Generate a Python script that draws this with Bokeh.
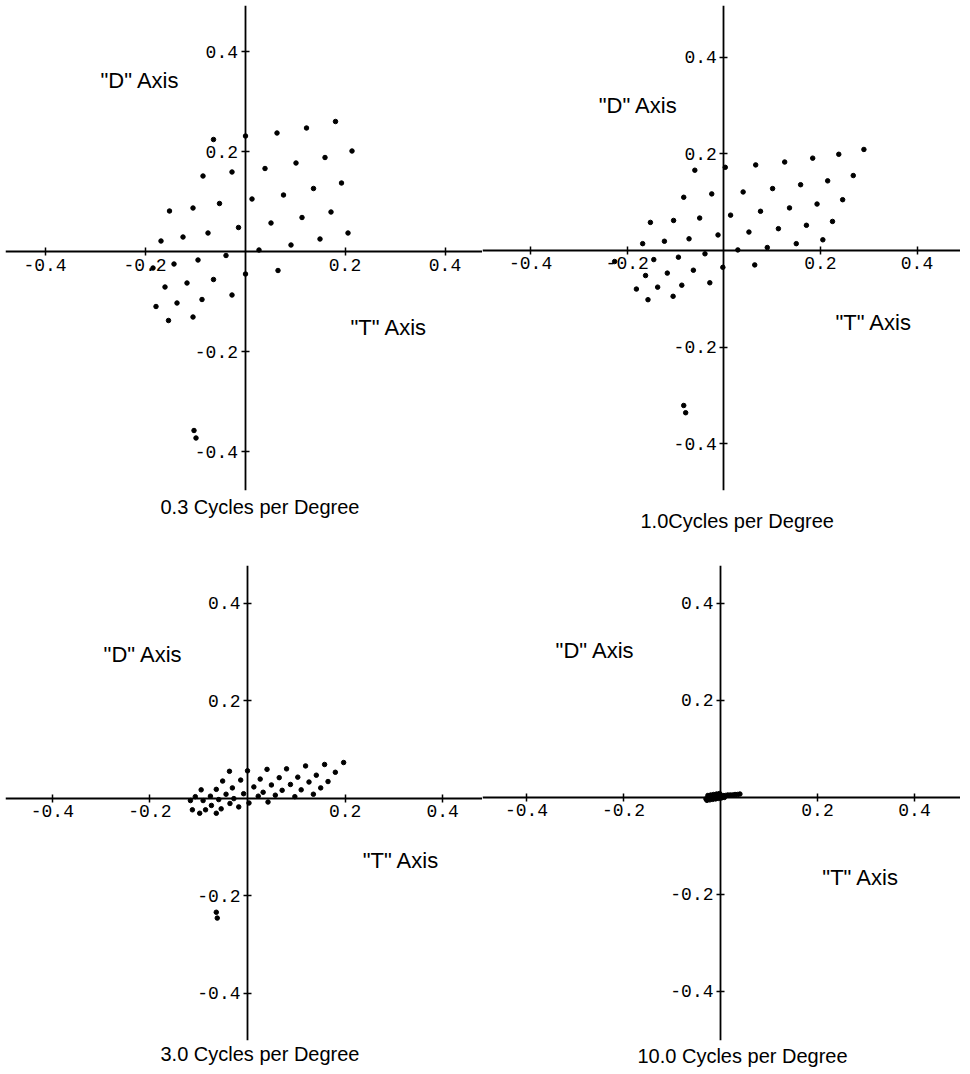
from bokeh.plotting import figure
from bokeh.models import LinearAxis, FixedTicker, Title, Range1d
from bokeh.layouts import row, column
from bokeh.embed import file_html
from bokeh.resources import INLINE
from bokeh.core.properties import value

# ---------------- data ----------------
tick_values = [-0.4, -0.2, 0.2, 0.4]
tick_labels = ["-0.4", "-0.2", "0.2", "0.4"]

titles = ["0.3 Cycles per Degree", "1.0Cycles per Degree",
          "3.0 Cycles per Degree", "10.0 Cycles per Degree"]
d_label = '"D" Axis'
t_label = '"T" Axis'

# panel 1 : 0.3 c/deg
p1_t = [-0.063, 0.001, 0.064, 0.123, 0.181,
        -0.084, -0.026, 0.040, 0.102, 0.160, 0.214,
        -0.151, -0.104, -0.051, 0.014, 0.077, 0.137, 0.193,
        -0.168, -0.124, -0.074, -0.013, 0.052, 0.114, 0.172,
        0.028, 0.092, 0.150, 0.206,
        -0.184, -0.142, -0.094, -0.038, 0.066, 0.001,
        -0.160, -0.116, -0.063,
        -0.178, -0.136, -0.086, -0.026,
        -0.153, -0.104,
        -0.102, -0.098]
p1_d = [0.224, 0.231, 0.237, 0.247, 0.260,
        0.151, 0.159, 0.166, 0.177, 0.188, 0.201,
        0.081, 0.087, 0.096, 0.105, 0.113, 0.126, 0.137,
        0.021, 0.029, 0.037, 0.048, 0.057, 0.068, 0.079,
        0.003, 0.013, 0.025, 0.037,
        -0.033, -0.025, -0.017, -0.008, -0.038, -0.045,
        -0.071, -0.063, -0.056,
        -0.110, -0.103, -0.096, -0.087,
        -0.138, -0.131,
        -0.358, -0.373]

# panel 2 : 1.0 c/deg
p2_t = [-0.060, 0.003, 0.066, 0.126, 0.184, 0.238, 0.290,
        -0.083, -0.025, 0.040, 0.101, 0.159, 0.215, 0.268,
        -0.152, -0.104, -0.050, 0.014, 0.076, 0.136, 0.193, 0.246,
        -0.168, -0.123, -0.072, -0.012, 0.052, 0.113, 0.171, 0.225,
        -0.226, -0.145, -0.094, -0.039, 0.029, 0.090, 0.150, 0.205,
        -0.162, -0.117, -0.063, -0.002, 0.064,
        -0.181, -0.137, -0.087, -0.029,
        -0.157, -0.105,
        -0.083, -0.079]
p2_d = [0.166, 0.172, 0.177, 0.183, 0.191, 0.199, 0.209,
        0.110, 0.117, 0.121, 0.128, 0.136, 0.144, 0.155,
        0.058, 0.062, 0.067, 0.073, 0.081, 0.088, 0.096, 0.105,
        0.014, 0.019, 0.024, 0.032, 0.038, 0.045, 0.052, 0.060,
        -0.023, -0.019, -0.014, -0.007, 0.001, 0.006, 0.014, 0.022,
        -0.052, -0.047, -0.041, -0.035, -0.030,
        -0.080, -0.076, -0.072, -0.067,
        -0.102, -0.095,
        -0.321, -0.336]

# panel 3 : 3.0 c/deg
p3_t = [-0.037, 0.000, 0.040, 0.080, 0.119, 0.158, 0.197,
        -0.051, -0.014, 0.026, 0.065, 0.103, 0.141, 0.180,
        -0.095, -0.064, -0.031, 0.013, 0.049, 0.088, 0.126, 0.165,
        -0.008, 0.032, 0.071, 0.110, 0.150,
        -0.117, -0.107, -0.091, -0.076, -0.059, -0.044, -0.028,
        0.022, 0.057, 0.097, 0.135,
        -0.036, -0.018, 0.003, 0.042, -0.074,
        -0.113, -0.098, -0.086, -0.064, -0.054,
        -0.064, -0.062]
p3_d = [0.055, 0.056, 0.059, 0.060, 0.066, 0.069, 0.073,
        0.035, 0.037, 0.039, 0.042, 0.043, 0.047, 0.053,
        0.017, 0.018, 0.021, 0.023, 0.027, 0.028, 0.033, 0.034,
        0.009, 0.012, 0.016, 0.017, 0.021,
        -0.005, 0.003, -0.005, 0.004, -0.003, 0.008, -0.001,
        0.004, 0.006, 0.003, 0.008,
        -0.011, -0.018, -0.010, -0.008, -0.015,
        -0.024, -0.031, -0.024, -0.031, -0.022,
        -0.234, -0.246]

# panel 4 : 10.0 c/deg
p4_t = [-0.030, -0.025, -0.020, -0.015, -0.010, -0.005, 0.000, 0.005,
        0.010, 0.015, 0.020, 0.025, 0.030, 0.035, 0.040,
        -0.028, -0.022, -0.016, -0.010, -0.004, 0.002, 0.008,
        -0.026, -0.020, -0.014, -0.008, -0.002]
p4_d = [-0.003, -0.001, 0.000, 0.001, 0.002, 0.003, 0.003, 0.004,
        0.004, 0.005, 0.005, 0.005, 0.006, 0.006, 0.007,
        -0.006, -0.005, -0.004, -0.003, -0.002, -0.001, 0.000,
        0.004, 0.005, 0.006, 0.007, 0.008]

FONT = "Liberation Sans"
MONO = "Liberation Mono"


def panel(t, d, xr, yr, fw, fh, title, offset, standoff,
          mb_left, mb_top, mb_bottom, d_pos, t_pos):
    p = figure(frame_width=fw, frame_height=fh,
               x_range=Range1d(*xr), y_range=Range1d(*yr),
               x_axis_type=None, y_axis_type=None,
               toolbar_location=None, output_backend="svg",
               min_border_left=mb_left, min_border_right=0,
               min_border_top=mb_top, min_border_bottom=mb_bottom,
               outline_line_color=None,
               background_fill_color="white", border_fill_color="white")
    for loc in ("below", "left"):
        ax = LinearAxis(fixed_location=0,
                        ticker=FixedTicker(ticks=tick_values),
                        major_label_overrides=dict(zip(tick_values, tick_labels)),
                        axis_line_color="black", axis_line_width=1.8,
                        major_tick_line_color="black", major_tick_line_width=1.5,
                        major_tick_in=4, major_tick_out=4,
                        minor_tick_line_color=None,
                        major_label_standoff=3,
                        major_label_text_font=MONO,
                        major_label_text_font_size="18px",
                        major_label_text_color="black")
        p.add_layout(ax, loc)
    p.scatter(t, d, size=4.5, color="black")
    p.text(x=[d_pos[0], t_pos[0]], y=[d_pos[1], t_pos[1]],
           text=[d_label, t_label],
           text_font=value(FONT), text_font_size="22px",
           text_baseline="middle", text_align="left", text_color="black")
    p.add_layout(Title(text=title, align="left", offset=offset,
                       standoff=standoff,
                       text_font=FONT, text_font_size="20px",
                       text_font_style="normal", text_color="black"), "below")
    return p


p1 = panel(p1_t, p1_d, (-0.479, 0.475), (-0.478, 0.492), 477, 485,
           titles[0], 155, 7, 5, 5, 60, (-0.289, 0.342), (0.211, -0.152))
p2 = panel(p2_t, p2_d, (-0.4996, 0.490), (-0.497, 0.507), 478, 485,
           titles[1], 158, 34, 0, 5, 60, (-0.259, 0.300), (0.231, -0.149))
p3 = panel(p3_t, p3_d, (-0.496, 0.4816), (-0.497, 0.477), 477, 475,
           titles[2], 155, 0, 5, 15, 26, (-0.295, 0.294), (0.236, -0.128))
p4 = panel(p4_t, p4_d, (-0.4907, 0.4948), (-0.501, 0.478), 478, 475,
           titles[3], 155, 5, 0, 15, 26, (-0.340, 0.303), (0.210, -0.165))

layout = column(row(p1, p2), row(p3, p4))
open("out.html", "w").write(file_html(layout, INLINE))
